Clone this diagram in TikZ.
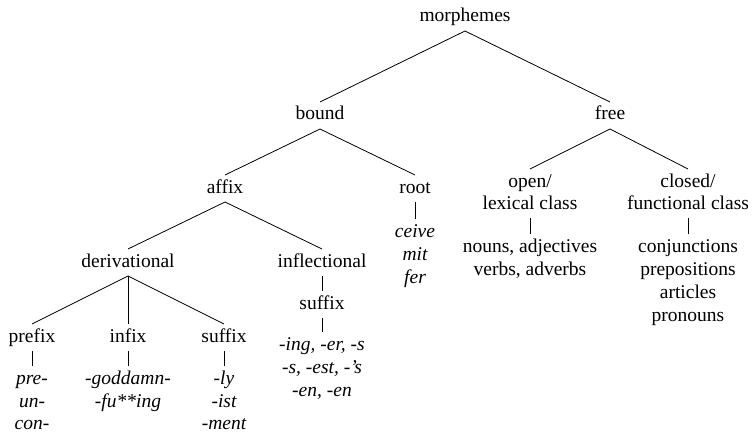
\documentclass[tikz,border=0pt]{standalone}
\usepackage{fontspec}
\setmainfont{Liberation Serif}
\begin{document}
\begin{tikzpicture}[x=1pt,y=-1pt,
  lab/.style={anchor=base, inner sep=0pt, outer sep=5pt, text height=13pt, text depth=4pt, font=\fontsize{19.5}{23}\selectfont},
  ex/.style={lab, font=\fontsize{19.5}{23}\selectfont\itshape},
  every path/.style={line width=0.8pt}]
\useasboundingbox (0,0) rectangle (752,433);
% top
\node[lab] (morph) at (465,22) {morphemes};
\node[lab] (bound) at (320,120) {bound};
\node[lab] (free) at (610,120) {free};
% bound subtree
\node[lab] (affix) at (225,193) {affix};
\node[lab] (root) at (415,193) {root};
\node[ex] (ceive) at (415,237) {ceive};
\node[ex] (mit) at (415,260) {mit};
\node[ex] (fer) at (415,283) {fer};
\node[lab] (deriv) at (128,267) {derivational};
\node[lab] (infl) at (322,267) {inflectional};
\node[lab] (isuf) at (322,309) {suffix};
\node[ex] (ing) at (322,350) {-ing, -er, -s};
\node[ex] (est) at (322,373) {-s, -est, -’s};
\node[ex] (en) at (322,396) {-en, -en};
\node[lab] (prefix) at (32,342) {prefix};
\node[lab] (infix) at (128,342) {infix};
\node[lab] (dsuf) at (224,342) {suffix};
\node[ex] (pre) at (32,384) {pre-};
\node[ex] (un) at (32,407) {un-};
\node[ex] (con) at (32,429) {con-};
\node[ex] (god) at (128,384) {-goddamn-};
\node[ex] (fu) at (128,407) {-fu**ing};
\node[ex] (ly) at (224,384) {-ly};
\node[ex] (ist) at (224,407) {-ist};
\node[ex] (ment) at (224,429) {-ment};
% free subtree
\node[lab] (open) at (530,187) {open/};
\node[lab] (lex) at (530,209) {lexical class};
\node[lab] (nouns) at (530,252) {nouns, adjectives};
\node[lab] (verbs) at (530,275) {verbs, adverbs};
\node[lab] (closed) at (688,187) {closed/};
\node[lab] (func) at (688,209) {functional class};
\node[lab] (conj) at (688,252) {conjunctions};
\node[lab] (prep) at (688,275) {prepositions};
\node[lab] (art) at (688,298) {articles};
\node[lab] (pron) at (688,321) {pronouns};
% connectors
\draw (morph.south) -- (bound.north);
\draw (morph.south) -- (free.north);
\draw (bound.south) -- (affix.north);
\draw (bound.south) -- (root.north);
\draw (root.south) -- (ceive.north);
\draw (affix.south) -- (deriv.north);
\draw (affix.south) -- (infl.north);
\draw (infl.south) -- (isuf.north);
\draw (isuf.south) -- (ing.north);
\draw (deriv.south) -- (prefix.north);
\draw (deriv.south) -- (infix.north);
\draw (deriv.south) -- (dsuf.north);
\draw (prefix.south) -- (pre.north);
\draw (infix.south) -- (god.north);
\draw (dsuf.south) -- (ly.north);
\draw (free.south) -- (open.north);
\draw (free.south) -- (closed.north);
\draw (lex.south) -- (nouns.north);
\draw (func.south) -- (conj.north);
\end{tikzpicture}
\end{document}
